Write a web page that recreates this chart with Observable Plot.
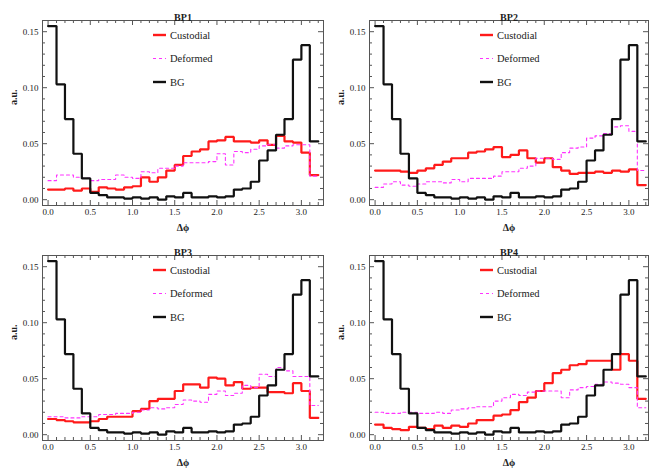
<!DOCTYPE html>
<html>
<head>
<meta charset="utf-8">
<script src="https://cdn.jsdelivr.net/npm/d3@7"></script>
<script src="https://cdn.jsdelivr.net/npm/@observablehq/plot@0.6"></script>
<style>
  html, body { margin: 0; padding: 0; background: white; }
  #wrap { position: relative; width: 649px; height: 468px; overflow: hidden; }
  .panel { position: absolute; }
</style>
</head>
<body>
<div id="wrap"></div>
<script>
// Bin edges of Δφ (32 bins of width 0.1, last edge closes the final bin)
const binEdges = [0.0,0.1,0.2,0.3,0.4,0.5,0.6,0.7,0.8,0.9,1.0,1.1,1.2,1.3,1.4,1.5,1.6,1.7,1.8,1.9,2.0,2.1,2.2,2.3,2.4,2.5,2.6,2.7,2.8,2.9,3.0,3.1,3.2];

const panelTitles = ["BP1", "BP2", "BP3", "BP4"];
const seriesNames = ["Custodial", "Deformed", "BG"];

// Background (same in every panel)
const bg = [0.155,0.103,0.072,0.041,0.019,0.006,0.004,0.002,0.002,0.001,0.002,0.001,0.002,0.000,0.003,0.002,0.006,0.002,0.002,0.003,0.002,0.003,0.009,0.010,0.016,0.035,0.044,0.058,0.072,0.125,0.138,0.052];

const custodialBP1 = [0.009,0.009,0.010,0.008,0.010,0.007,0.011,0.010,0.009,0.011,0.012,0.020,0.016,0.020,0.026,0.031,0.039,0.043,0.045,0.052,0.053,0.056,0.052,0.052,0.051,0.053,0.049,0.057,0.052,0.051,0.042,0.022];
const deformedBP1  = [0.017,0.022,0.022,0.020,0.019,0.017,0.018,0.018,0.022,0.020,0.019,0.025,0.024,0.028,0.028,0.030,0.033,0.033,0.033,0.034,0.041,0.031,0.043,0.042,0.045,0.048,0.049,0.046,0.048,0.049,0.049,0.021];

const custodialBP2 = [0.026,0.026,0.026,0.025,0.024,0.026,0.028,0.031,0.034,0.037,0.037,0.042,0.043,0.045,0.047,0.038,0.040,0.044,0.037,0.033,0.037,0.029,0.026,0.023,0.024,0.024,0.025,0.024,0.026,0.025,0.027,0.013];
const deformedBP2  = [0.011,0.014,0.016,0.013,0.012,0.014,0.016,0.016,0.015,0.018,0.016,0.019,0.019,0.019,0.021,0.025,0.025,0.028,0.030,0.037,0.037,0.036,0.042,0.046,0.047,0.055,0.057,0.059,0.065,0.066,0.061,0.026];

const custodialBP3 = [0.014,0.013,0.012,0.011,0.011,0.012,0.014,0.016,0.016,0.016,0.021,0.023,0.030,0.032,0.032,0.039,0.045,0.045,0.042,0.051,0.050,0.044,0.047,0.041,0.042,0.042,0.038,0.038,0.037,0.046,0.039,0.015];
const deformedBP3  = [0.016,0.016,0.015,0.015,0.016,0.016,0.018,0.018,0.019,0.019,0.020,0.022,0.024,0.023,0.024,0.027,0.031,0.030,0.029,0.036,0.039,0.035,0.037,0.044,0.042,0.054,0.052,0.060,0.057,0.052,0.052,0.026];

const custodialBP4 = [0.009,0.006,0.005,0.004,0.007,0.006,0.005,0.008,0.006,0.008,0.007,0.010,0.013,0.013,0.017,0.018,0.022,0.029,0.033,0.039,0.046,0.055,0.058,0.062,0.063,0.066,0.066,0.066,0.058,0.072,0.066,0.032];
const deformedBP4  = [0.020,0.019,0.019,0.020,0.020,0.019,0.019,0.020,0.019,0.022,0.023,0.024,0.025,0.025,0.030,0.033,0.036,0.035,0.038,0.039,0.039,0.039,0.033,0.040,0.042,0.043,0.045,0.047,0.046,0.045,0.042,0.024];

const xTicks = [0.0, 0.5, 1.0, 1.5, 2.0, 2.5, 3.0];
const yTicks = [0.00, 0.05, 0.10, 0.15];

const custodial = [custodialBP1, custodialBP2, custodialBP3, custodialBP4];
const deformed = [deformedBP1, deformedBP2, deformedBP3, deformedBP4];

const styles = {
  Custodial: {stroke: "#ff1a1a", strokeWidth: 2.2, dash: null},
  Deformed:  {stroke: "#ff33ff", strokeWidth: 1.1, dash: "3,3"},
  BG:        {stroke: "#111111", strokeWidth: 2.2, dash: null}
};

const serif = "'Liberation Serif', 'DejaVu Serif', serif";
const frameColor = "#555";

const layout = [
  {left: 0,   top: 0,   width: 325, mL: 42, mR: 2, mT: 20, mB: 29, xd: [-0.066, 3.262]},
  {left: 325, top: 0,   width: 324, mL: 44, mR: 1, mT: 20, mB: 29, xd: [-0.066, 3.232]},
  {left: 0,   top: 234, width: 325, mL: 42, mR: 2, mT: 21, mB: 28, xd: [-0.066, 3.262]},
  {left: 325, top: 234, width: 324, mL: 44, mR: 1, mT: 21, mB: 28, xd: [-0.066, 3.232]}
];

function notMultiple(v, step) { return Math.abs(v / step - Math.round(v / step)) > 1e-6; }
const xMinor = d3.range(1, 33).map(k => k / 10).filter(v => notMultiple(v, 0.5));
const yMinor = d3.range(1, 17).map(k => k / 100).filter(v => notMultiple(v, 0.05));

const wrap = document.getElementById("wrap");

function rowsOf(vals, name) {
  return binEdges.map((e, i) => ({x: e, y: vals[Math.min(i, vals.length - 1)], series: name}));
}

layout.forEach((L, p) => {
  const height = 234;
  const innerH = height - L.mT - L.mB;
  const innerW = L.width - L.mL - L.mR;
  const series = [
    {name: "Custodial", vals: custodial[p]},
    {name: "Deformed", vals: deformed[p]},
    {name: "BG", vals: bg}
  ];
  const lineMarks = series.map(s => Plot.line(rowsOf(s.vals, s.name), {
    x: "x", y: "y", curve: "step-after",
    stroke: styles[s.name].stroke, strokeWidth: styles[s.name].strokeWidth,
    strokeDasharray: styles[s.name].dash, strokeLinejoin: "miter"
  }));

  const chart = Plot.plot({
    width: L.width, height,
    marginLeft: L.mL, marginRight: L.mR, marginTop: L.mT, marginBottom: L.mB,
    x: {domain: L.xd},
    y: {domain: [-0.0052, 0.1600]},
    style: {fontFamily: serif, fontSize: "9px", background: "white", color: "#222"},
    marks: [
      // inward frame ticks on all four sides
      Plot.tickX(xTicks, {x: d => d, insetTop: innerH - 5, stroke: frameColor}),
      Plot.tickX(xTicks, {x: d => d, insetBottom: innerH - 5, stroke: frameColor}),
      Plot.tickX(xMinor, {x: d => d, insetTop: innerH - 3, stroke: frameColor}),
      Plot.tickX(xMinor, {x: d => d, insetBottom: innerH - 3, stroke: frameColor}),
      Plot.tickY(yTicks, {y: d => d, insetRight: innerW - 5, stroke: frameColor}),
      Plot.tickY(yTicks, {y: d => d, insetLeft: innerW - 5, stroke: frameColor}),
      Plot.tickY(yMinor, {y: d => d, insetRight: innerW - 3, stroke: frameColor}),
      Plot.tickY(yMinor, {y: d => d, insetLeft: innerW - 3, stroke: frameColor}),
      Plot.axisX(xTicks, {tickSize: 0, tickPadding: 3, tickFormat: d3.format(".1f"), label: null, fontSize: 9}),
      Plot.axisY(yTicks, {tickSize: 0, tickPadding: 4, tickFormat: d3.format(".2f"), label: null, fontSize: 9}),
      ...lineMarks,
      Plot.frame({stroke: frameColor}),
      Plot.text([panelTitles[p]], {frameAnchor: "top", dy: -7, fontWeight: "bold", fontSize: 10}),
      Plot.text(["Δϕ"], {frameAnchor: "bottom", dy: 25, fontWeight: "bold", fontSize: 10}),
      Plot.text(["a.u."], {frameAnchor: "left", dx: -29, dy: -8, rotate: -90, fontWeight: "bold", fontSize: 10})
    ]
  });

  // legend inside the frame
  const svg = d3.select(chart);
  const lg = svg.append("g").attr("transform", `translate(${L.mL + 111},${L.mT + 15})`);
  seriesNames.forEach((name, i) => {
    const y = i * 23.5;
    const st = styles[name];
    lg.append("line").attr("x1", 0).attr("x2", 13).attr("y1", y).attr("y2", y)
      .attr("stroke", st.stroke).attr("stroke-width", name === "Deformed" ? 1.1 : 2.4)
      .attr("stroke-dasharray", st.dash);
    lg.append("text").attr("x", 17).attr("y", y).attr("dy", "0.35em")
      .attr("text-anchor", "start")
      .attr("font-family", serif).attr("font-size", 10.5).attr("fill", "#222").text(name);
  });

  const div = document.createElement("div");
  div.className = "panel";
  div.style.left = L.left + "px";
  div.style.top = L.top + "px";
  div.appendChild(chart);
  wrap.appendChild(div);
});
</script>
</body>
</html>
